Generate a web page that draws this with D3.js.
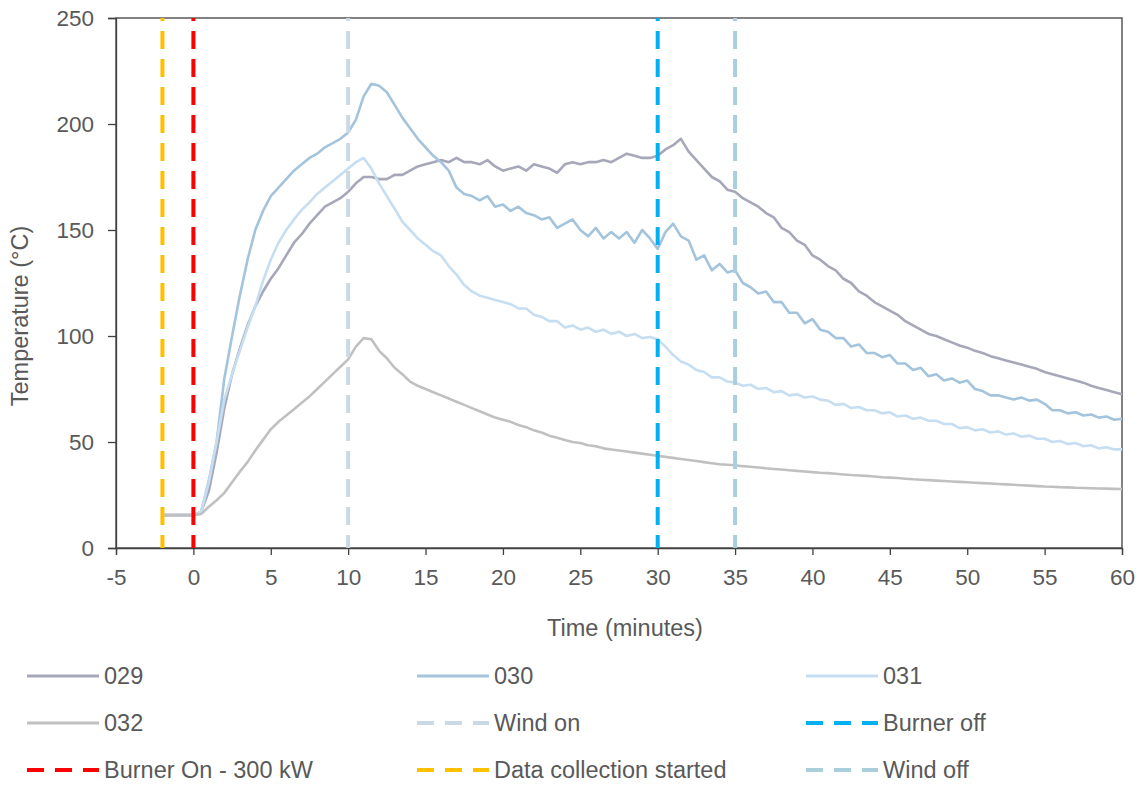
<!DOCTYPE html>
<html>
<head>
<meta charset="utf-8">
<script src="https://cdn.jsdelivr.net/npm/d3@7"></script>
<style>
  html, body { margin: 0; padding: 0; background: #fff; }
  svg { display: block; font-family: "Liberation Sans", Arial, sans-serif; }
</style>
</head>
<body>
<svg id="chart" width="1143" height="785"></svg>
<script>
// ---- data ----
const minutes = d3.range(-2, 60.001, 0.5);

const s029 = [15.5,15.5,15.5,15.5,15.5,
  17,27,45,66,82,94,105,114,121,127,132,138,144,148,153,157,161,163,165,168,
  172,175,175,174,174,176,176,178,180,181,182,183,182,184,182,182,181,183,180,178,
  179,180,178,181,180,179,177,181,182,181,182,182,183,182,184,186,185,184,184,185,
  188,190,193,187,183,179,175,173,169,168,165,163,161,158,156,151,149,145,143,138,
  136,133,131,127,125,121,119,116,114,112,110,107,105,103,101,100,98.5,97,95.5,94.5,
  93,92,90.5,89.5,88.5,87.5,86.5,85.5,84.5,83,82,81,80,79,78,76.5,75.5,74.5,73.5,72.5];

const s030 = [15.5,15.5,15.5,15.5,15.5,
  17,32,50,80,100,119,136,150,159,166,170,174,178,181,184,186,189,191,193,196,
  202,213,219,218,215,209,203,198,193,189,185,182,178,170,167,166,164,166,161,162,
  159,161,158,157,155,156,151,153,155,150,147,151,146,149,146,149,144,150,146,141,
  149,153,147,145,136,138,131,134,130,131,125,123,120,121,116,116,111,111,106,108,
  103,102,99,99,95,96,92,92,90,91,87,87,84,85,81,82,79,80,78,79,
  75,74,72,72,71,70,71,69.5,70,68,65,65,63.5,64,62.5,63,61.5,62,60.5,61];

const s031 = [15.5,15.5,15.5,15.5,15.5,
  17,31,50,70,82,93,104,114,126,136,144,150,155,159.5,163,167,170,173,176,179,
  182,184,179,172,166,160,154,150,146,143,140,138,133,129,124,121,119,118,117,116,
  115,113,113,110,109,107,107,104,105,103,104,102,103,101,102,100,101,99,99.5,98.5,
  95,91,88,86.5,84,83,80.5,80.5,78.5,78,76.5,77,75,75.5,73.5,74,72,72.5,71,71.5,
  70,69.5,67.5,68,66,66.5,65,65,63.5,64,62,62.5,61,61.5,60,60,58.5,58.5,56.5,57,
  55.5,56,54.5,55,53.5,54,52.5,53,51.5,51.5,50,50.5,49,49.5,48,48.5,47,47.5,46.5,46.5];

const s032 = [15.5,15.5,15.5,15.5,15.5,
  16,19.5,22.5,26,31,36,40.5,46,51,56,59.5,62.5,65.5,68.5,71.5,75,78.5,82,85.5,89,
  95,99,98.5,93,89.5,85,82,78.5,76.5,75,73.5,72,70.5,69,67.5,66,64.5,63,61.5,60.5,
  59.5,58,57,55.5,54.5,53,52,51,50,49.5,48.5,48,47,46.5,46,45.5,45,44.5,44,43.5,
  43,42.5,42,41.5,41,40.5,40,39.5,39.3,39,38.6,38.3,38,37.6,37.3,37,36.7,36.4,36.1,35.8,
  35.5,35.3,35,34.7,34.4,34.2,34,33.7,33.4,33.2,33,32.7,32.4,32.2,32,31.8,31.6,31.4,31.2,31,
  30.8,30.6,30.4,30.2,30,29.8,29.6,29.4,29.2,29,28.9,28.7,28.6,28.4,28.3,28.2,28.1,28,27.9,27.8];

const seriesNames = ["029", "030", "031", "032"];
const seriesValues = [s029, s030, s031, s032];
const seriesColors = ["#A6A8B9", "#A3C4DC", "#C6DEF1", "#C0C0C0"];

const eventNames = ["Wind on", "Burner off", "Burner On - 300 kW", "Data collection started", "Wind off"];
const eventTimes = [10, 30, 0, -2, 35];
const eventColors = ["#C9D9E6", "#00B0F0", "#FF0000", "#FFC000", "#A9CEDC"];

const xTicks = [-5, 0, 5, 10, 15, 20, 25, 30, 35, 40, 45, 50, 55, 60];
const yTicks = [0, 50, 100, 150, 200, 250];

// ---- layout ----
const svg = d3.select("#chart");
const pLeft = 116, pRight = 1122, pTop = 18, pBottom = 548;
const x = d3.scaleLinear().domain([-5, 60]).range([pLeft, pRight]);
const y = d3.scaleLinear().domain([0, 250]).range([pBottom, pTop]);
const axisColor = "#404040", textColor = "#595959", fs = 22.5, fsBig = 23.5;

// frame
svg.append("rect").attr("x", pLeft).attr("y", pTop).attr("width", pRight - pLeft).attr("height", pBottom - pTop)
  .attr("fill", "none").attr("stroke", axisColor).attr("stroke-width", 1.3);

const fmt = d => String(d);
const xAxis = svg.append("g").attr("transform", `translate(0,${pBottom})`)
  .call(d3.axisBottom(x).tickValues(xTicks).tickSize(7).tickPadding(14).tickFormat(fmt));
const yAxis = svg.append("g").attr("transform", `translate(${pLeft},0)`)
  .call(d3.axisLeft(y).tickValues(yTicks).tickSize(8).tickPadding(14).tickFormat(fmt));
[xAxis, yAxis].forEach(g => {
  g.select(".domain").attr("stroke", axisColor).attr("stroke-width", 1.3);
  g.selectAll(".tick line").attr("stroke", axisColor).attr("stroke-width", 1.3);
  g.selectAll(".tick text").attr("fill", textColor).style("font-size", fs + "px")
    .style("font-family", "'Liberation Sans', Arial, sans-serif");
});

// axis titles
svg.append("text").attr("x", 625).attr("y", 636).attr("text-anchor", "middle")
  .attr("fill", textColor).style("font-size", fsBig + "px").text("Time (minutes)");
svg.append("text").attr("transform", "translate(28,316) rotate(-90)").attr("text-anchor", "middle")
  .attr("fill", textColor).style("font-size", fsBig + "px").text("Temperature (°C)");

// series lines
const line = d3.line().x((d, i) => x(minutes[i])).y(d => y(d));
seriesValues.forEach((vals, k) => {
  svg.append("path").datum(vals).attr("d", line).attr("fill", "none")
    .attr("stroke", seriesColors[k]).attr("stroke-width", 2.6).attr("stroke-linejoin", "round");
});

// event vertical lines
eventTimes.forEach((t, k) => {
  svg.append("line").attr("x1", x(t)).attr("x2", x(t)).attr("y1", pTop).attr("y2", pBottom)
    .attr("stroke", eventColors[k]).attr("stroke-width", 4)
    .attr("stroke-dasharray", "18 10").attr("stroke-dashoffset", 15);
});

// legend
const legendItems = [
  {name: seriesNames[0], color: seriesColors[0], dash: false},
  {name: seriesNames[1], color: seriesColors[1], dash: false},
  {name: seriesNames[2], color: seriesColors[2], dash: false},
  {name: seriesNames[3], color: seriesColors[3], dash: false},
  {name: eventNames[0], color: eventColors[0], dash: true},
  {name: eventNames[1], color: eventColors[1], dash: true},
  {name: eventNames[2], color: eventColors[2], dash: true},
  {name: eventNames[3], color: eventColors[3], dash: true},
  {name: eventNames[4], color: eventColors[4], dash: true}
];
const colX = [27, 417, 806], rowY = [676, 723, 770];
legendItems.forEach((it, i) => {
  const cx = colX[i % 3], cy = rowY[Math.floor(i / 3)];
  const g = svg.append("g");
  const ln = g.append("line").attr("x1", cx).attr("x2", cx + 72).attr("y1", cy).attr("y2", cy)
    .attr("stroke", it.color).attr("stroke-width", it.dash ? 4 : 3);
  if (it.dash) ln.attr("stroke-dasharray", "17 11");
  g.append("text").attr("x", cx + 77).attr("y", cy + 8).attr("fill", textColor)
    .style("font-size", fsBig + "px").text(it.name);
});
</script>
</body>
</html>
